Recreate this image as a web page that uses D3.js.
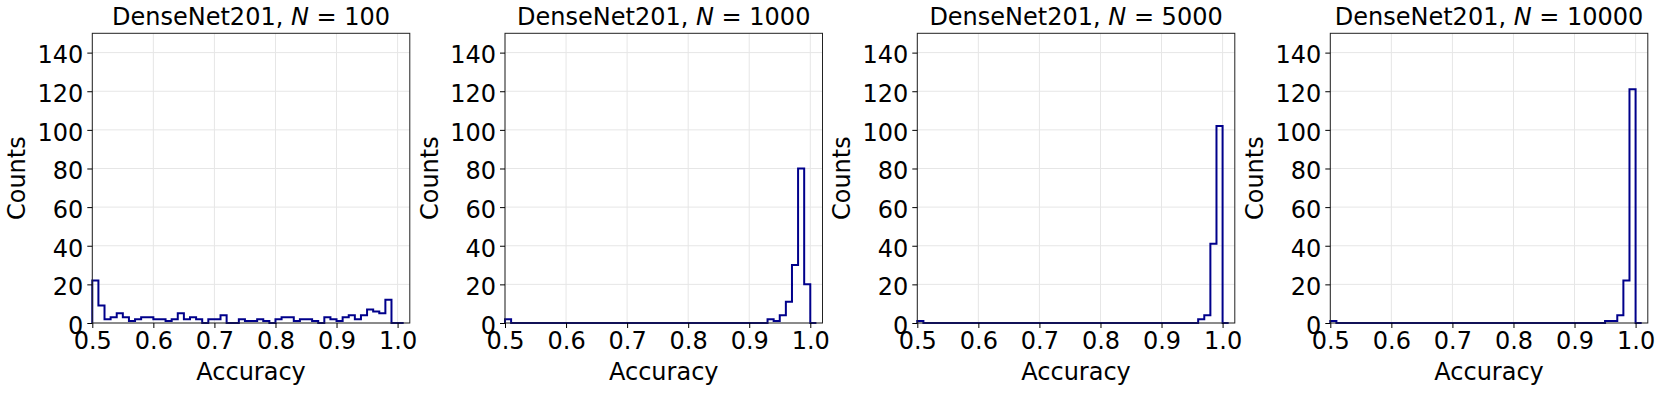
<!DOCTYPE html>
<html>
<head>
<meta charset="utf-8">
<script src="https://d3js.org/d3.v7.min.js"></script>
<style>
  body { margin: 0; background: #fff; }
  text { font-family: "DejaVu Sans", sans-serif; fill: #000; }
  .grid line { stroke: #e6e6e6; stroke-width: 1; }
  .axis path, .axis line { stroke: #000; stroke-width: 1; }
  .frame { fill: none; stroke: #222; stroke-width: 1; }
  .hist { fill: none; stroke: #00008b; stroke-width: 2; stroke-linejoin: miter; }
</style>
</head>
<body>
<div id="chart-area"></div>
<script>
// histogram bins: 51 bins of width 0.01 starting at 0.50
var binEdges = d3.range(51 + 1).map(function(i) { return +(0.5 + i * 0.01).toFixed(2); });

var sampleSizes = [100, 1000, 5000, 10000];
var modelName = "DenseNet201";

var counts100 = [22, 9, 2, 3, 5, 3, 1, 2, 3, 3,
                 2, 2, 1, 2, 5, 2, 3, 2, 0, 2,
                 2, 4, 0, 0, 2, 1, 1, 2, 1, 0,
                 2, 3, 3, 1, 2, 2, 1, 0, 3, 2,
                 1, 3, 4, 2, 4, 7, 6, 5, 12, 0,
                 0];
var counts1000 = [2, 0, 0, 0, 0, 0, 0, 0, 0, 0,
                  0, 0, 0, 0, 0, 0, 0, 0, 0, 0,
                  0, 0, 0, 0, 0, 0, 0, 0, 0, 0,
                  0, 0, 0, 0, 0, 0, 0, 0, 0, 0,
                  0, 0, 0, 2, 1, 4, 11, 30, 80, 20,
                  0];
var counts5000 = [1, 0, 0, 0, 0, 0, 0, 0, 0, 0,
                  0, 0, 0, 0, 0, 0, 0, 0, 0, 0,
                  0, 0, 0, 0, 0, 0, 0, 0, 0, 0,
                  0, 0, 0, 0, 0, 0, 0, 0, 0, 0,
                  0, 0, 0, 0, 0, 0, 2, 4, 41, 102,
                  0];
var counts10000 = [1, 0, 0, 0, 0, 0, 0, 0, 0, 0,
                   0, 0, 0, 0, 0, 0, 0, 0, 0, 0,
                   0, 0, 0, 0, 0, 0, 0, 0, 0, 0,
                   0, 0, 0, 0, 0, 0, 0, 0, 0, 0,
                   0, 0, 0, 0, 0, 1, 1, 4, 22, 121,
                   0];

var xTicks = [0.5, 0.6, 0.7, 0.8, 0.9, 1.0];
var yTicks = [0, 20, 40, 60, 80, 100, 120, 140];

Hist = function(_svg, _left, _counts, _n) {
  this.svg = _svg;
  this.left = _left;
  this.counts = _counts;
  this.n = _n;

  this.initVis();
}

Hist.prototype.initVis = function() {
  var vis = this;

  vis.top = 33.3;
  vis.width = 317.5;
  vis.height = 289.7;

  vis.g = vis.svg.append("g")
    .attr("transform", "translate(" + vis.left + "," + vis.top + ")");

  vis.x = d3.scaleLinear()
    .domain([0.5, 1.02])
    .range([0, vis.width]);

  vis.y = d3.scaleLinear()
    .domain([0, 150])
    .range([vis.height, 0]);

  // grid
  var grid = vis.g.append("g").attr("class", "grid");
  grid.selectAll(".gx").data(xTicks).enter().append("line")
    .attr("x1", function(d) { return vis.x(d); })
    .attr("x2", function(d) { return vis.x(d); })
    .attr("y1", 0)
    .attr("y2", vis.height);
  grid.selectAll(".gy").data(yTicks).enter().append("line")
    .attr("x1", 0)
    .attr("x2", vis.width)
    .attr("y1", function(d) { return vis.y(d); })
    .attr("y2", function(d) { return vis.y(d); });

  vis.wrangleData();
};

Hist.prototype.wrangleData = function() {
  var vis = this;

  // step outline like histtype='step'
  vis.points = [[binEdges[0], 0]];
  vis.counts.forEach(function(c, i) {
    vis.points.push([binEdges[i], c]);
    vis.points.push([binEdges[i + 1], c]);
  });
  vis.points.push([binEdges[binEdges.length - 1], 0]);

  vis.updateVis();
};

Hist.prototype.updateVis = function() {
  var vis = this;

  var line = d3.line()
    .x(function(d) { return vis.x(d[0]); })
    .y(function(d) { return vis.y(d[1]); });

  vis.g.append("path")
    .attr("class", "hist")
    .attr("d", line(vis.points));

  // frame
  vis.g.append("rect")
    .attr("class", "frame")
    .attr("x", 0)
    .attr("y", 0)
    .attr("width", vis.width)
    .attr("height", vis.height);

  // axes
  var xAxis = d3.axisBottom(vis.x)
    .tickValues(xTicks)
    .tickFormat(d3.format(".1f"))
    .tickSizeOuter(0)
    .tickSize(5)
    .tickPadding(4);

  var yAxis = d3.axisLeft(vis.y)
    .tickValues(yTicks)
    .tickSizeOuter(0)
    .tickSize(5)
    .tickPadding(4);

  var xg = vis.g.append("g")
    .attr("class", "axis x-axis")
    .attr("transform", "translate(0," + vis.height + ")")
    .call(xAxis);
  xg.select(".domain").remove();
  xg.selectAll("text")
    .attr("font-size", 24)
    .attr("dy", "0.72em")
    .attr("y", 8.7);

  var yg = vis.g.append("g")
    .attr("class", "axis y-axis")
    .call(yAxis);
  yg.select(".domain").remove();
  yg.selectAll("text")
    .attr("font-size", 24)
    .attr("dy", "0.43em");

  // labels
  vis.g.append("text")
    .attr("text-anchor", "middle")
    .attr("font-size", 24)
    .attr("x", vis.width / 2)
    .attr("y", 347)
    .text("Accuracy");

  vis.g.append("text")
    .attr("text-anchor", "middle")
    .attr("font-size", 24)
    .attr("transform", "translate(-67.3," + (vis.height / 2) + ") rotate(-90)")
    .text("Counts");

  var title = vis.g.append("text")
    .attr("text-anchor", "middle")
    .attr("font-size", 24)
    .attr("x", vis.width / 2)
    .attr("y", -8.3);
  title.append("tspan").text(modelName + ", ");
  title.append("tspan").attr("font-style", "italic").text("N");
  title.append("tspan").text(" = " + vis.n);
};

var svg = d3.select("#chart-area").append("svg")
  .attr("width", 1661)
  .attr("height", 393);

var panelLefts = [92.3, 505, 917.3, 1330.3];
var allCounts = [counts100, counts1000, counts5000, counts10000];

allCounts.forEach(function(c, i) {
  new Hist(svg, panelLefts[i], c, sampleSizes[i]);
});
</script>
</body>
</html>
